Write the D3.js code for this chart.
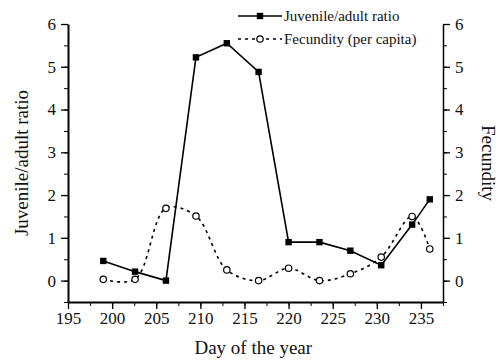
<!DOCTYPE html>
<html>
<head>
<meta charset="utf-8">
<script src="https://cdn.jsdelivr.net/npm/d3@7"></script>
<style>
  body { margin: 0; background: #fff; }
  svg { font-family: "Liberation Serif", "DejaVu Serif", serif; }
  .axis path, .axis line { stroke: #000; }
</style>
</head>
<body>
<div id="plot"></div>
<script>
// day of the year for each sample
const days = [199, 202.6, 206.1, 209.5, 213.0, 216.6, 220.0, 223.5, 227.0, 230.5, 234.0, 236.0];
// juvenile/adult ratio (left axis)
const ratio = [0.46, 0.21, 0.0, 5.22, 5.55, 4.88, 0.9, 0.9, 0.70, 0.36, 1.31, 1.9];
// fecundity per capita (right axis)
const fecundity = [0.03, 0.03, 1.69, 1.51, 0.25, 0.0, 0.29, 0.0, 0.16, 0.55, 1.5, 0.74];

const xTicks = [195, 200, 205, 210, 215, 220, 225, 230, 235];
const yTicks = [0, 1, 2, 3, 4, 5, 6];

const W = 500, H = 363;
const margin = { top: 24, right: 57, bottom: 62, left: 68 };
const width = W - margin.left - margin.right,
      height = H - margin.top - margin.bottom;

const x = d3.scaleLinear().domain([195, 237.5]).range([0, width]);
const y = d3.scaleLinear().domain([-0.5, 6]).range([height + 1, 0]);

const svg = d3.select("#plot").append("svg")
    .attr("width", W).attr("height", H);
const g = svg.append("g").attr("transform", `translate(${margin.left},${margin.top})`);

// minor ticks
const xMinor = d3.range(195, 237.6, 2.5);
const yMinor = d3.range(-0.5, 6.01, 0.5);
const fmt = d3.format("d");

// x axis
g.append("g").attr("class", "axis")
    .attr("transform", `translate(0,${height + 1})`)
    .call(d3.axisBottom(x).tickValues(xMinor).tickSize(4).tickSizeOuter(0).tickFormat(""))
    .call(a => a.select(".domain").attr("stroke-width", 2));
g.append("g").attr("class", "axis")
    .attr("transform", `translate(0,${height + 1})`)
    .call(d3.axisBottom(x).tickValues(xTicks).tickSize(7).tickPadding(3).tickFormat(fmt))
    .call(a => a.select(".domain").remove())
    .call(a => a.selectAll("line").attr("stroke-width", 1.3));

// left axis
g.append("g").attr("class", "axis")
    .call(d3.axisLeft(y).tickValues(yMinor).tickSize(4).tickSizeOuter(0).tickFormat(""))
    .call(a => a.select(".domain").attr("stroke-width", 2));
g.append("g").attr("class", "axis")
    .call(d3.axisLeft(y).tickValues(yTicks).tickSize(7).tickPadding(5).tickFormat(fmt))
    .call(a => a.select(".domain").remove())
    .call(a => a.selectAll("line").attr("stroke-width", 1.3));

// right axis
g.append("g").attr("class", "axis")
    .attr("transform", `translate(${width},0)`)
    .call(d3.axisRight(y).tickValues(yMinor).tickSize(4).tickSizeOuter(0).tickFormat(""))
    .call(a => a.select(".domain").attr("stroke-width", 1.5));
g.append("g").attr("class", "axis")
    .attr("transform", `translate(${width},0)`)
    .call(d3.axisRight(y).tickValues(yTicks).tickSize(7).tickPadding(5).tickFormat(fmt))
    .call(a => a.select(".domain").remove())
    .call(a => a.selectAll("line").attr("stroke-width", 1.3));

svg.selectAll(".axis text")
    .style("font-family", "'Liberation Serif', 'DejaVu Serif', serif")
    .style("font-size", "17px")
    .style("fill", "#111");

// axis titles
svg.append("text")
    .attr("x", margin.left + x(216)).attr("y", 354)
    .attr("text-anchor", "middle").attr("font-size", 19).attr("fill", "#111")
    .text("Day of the year");
svg.append("text")
    .attr("transform", `translate(28,${margin.top + y(2.75)}) rotate(-90)`)
    .attr("text-anchor", "middle").attr("font-size", 19).attr("fill", "#111")
    .text("Juvenile/adult ratio");
svg.append("text")
    .attr("transform", `translate(482,${margin.top + y(2.75)}) rotate(90)`)
    .attr("text-anchor", "middle").attr("font-size", 19).attr("fill", "#111")
    .text("Fecundity");

// fecundity line (smooth, dashed)
const fecData = days.map((d, i) => ({ x: d, y: fecundity[i] }));
const ratioData = days.map((d, i) => ({ x: d, y: ratio[i] }));

g.append("path").datum(fecData)
    .attr("fill", "none").attr("stroke", "#000").attr("stroke-width", 1.6)
    .attr("stroke-dasharray", "3,4")
    .attr("d", d3.line().x(d => x(d.x)).y(d => y(d.y)).curve(d3.curveCatmullRom.alpha(0.5)));

g.append("path").datum(ratioData)
    .attr("fill", "none").attr("stroke", "#000").attr("stroke-width", 1.6)
    .attr("d", d3.line().x(d => x(d.x)).y(d => y(d.y)));

g.selectAll(".sq").data(ratioData).join("rect")
    .attr("class", "sq")
    .attr("x", d => x(d.x) - 3.2).attr("y", d => y(d.y) - 3.2)
    .attr("width", 6.4).attr("height", 6.4).attr("fill", "#000");

g.selectAll(".ci").data(fecData).join("circle")
    .attr("class", "ci")
    .attr("cx", d => x(d.x)).attr("cy", d => y(d.y)).attr("r", 3.2)
    .attr("fill", "#fff").attr("stroke", "#000").attr("stroke-width", 1.2);

// legend
const legend = svg.append("g");
const lx0 = 238, lx1 = 282;
legend.append("line").attr("x1", lx0).attr("x2", lx1).attr("y1", 16).attr("y2", 16)
    .attr("stroke", "#000").attr("stroke-width", 1.6);
legend.append("rect").attr("x", (lx0 + lx1) / 2 - 3.2).attr("y", 16 - 3.2)
    .attr("width", 6.4).attr("height", 6.4).attr("fill", "#000");
legend.append("text").attr("x", 284).attr("y", 21).attr("font-size", 15).attr("fill", "#111")
    .text("Juvenile/adult ratio");
legend.append("line").attr("x1", lx0).attr("x2", lx1).attr("y1", 39).attr("y2", 39)
    .attr("stroke", "#000").attr("stroke-width", 1.6).attr("stroke-dasharray", "3,4");
legend.append("circle").attr("cx", (lx0 + lx1) / 2).attr("cy", 39).attr("r", 3.2)
    .attr("fill", "#fff").attr("stroke", "#000").attr("stroke-width", 1.2);
legend.append("text").attr("x", 284).attr("y", 44).attr("font-size", 15).attr("fill", "#111")
    .text("Fecundity (per capita)");
</script>
</body>
</html>
